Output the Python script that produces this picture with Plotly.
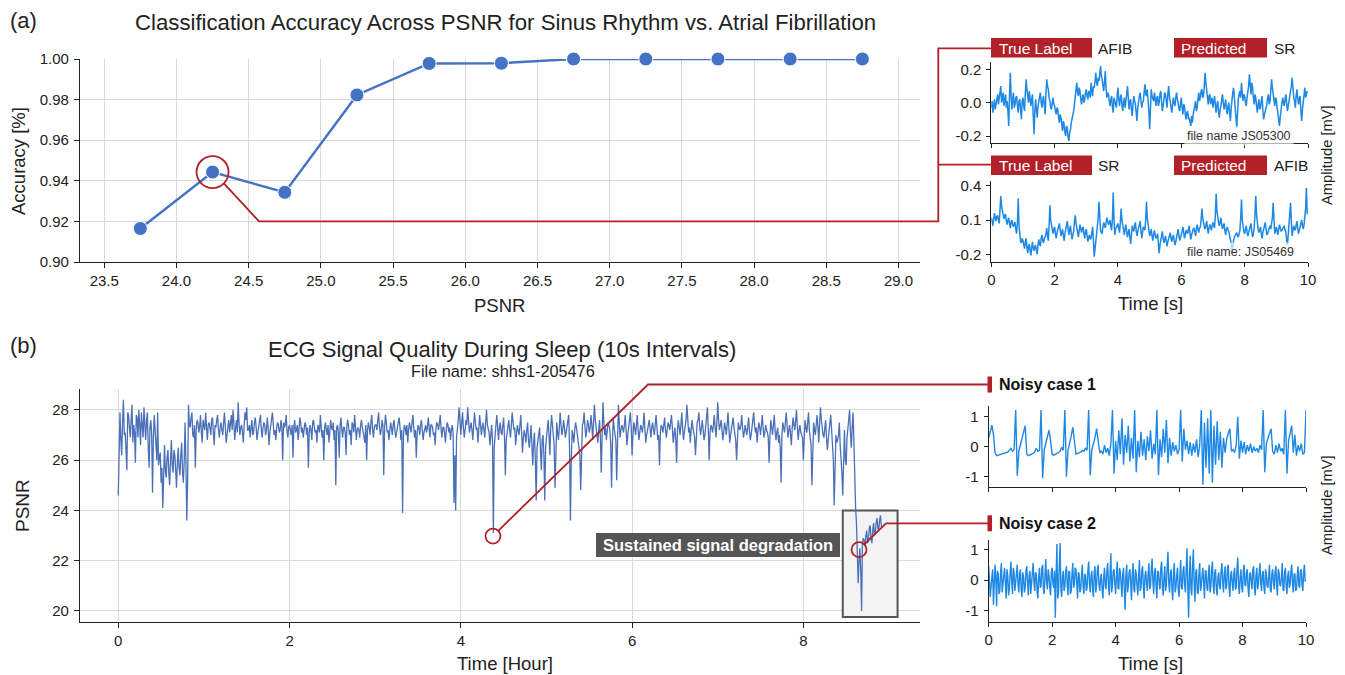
import plotly.graph_objects as go

W, H = 1345, 675

# ------------------------------------------------------------------ data
psnr_bins = [23.75, 24.25, 24.75, 25.25, 25.75, 26.25, 26.75, 27.25, 27.75, 28.25, 28.75]
accuracy = [0.9165, 0.9443, 0.9343, 0.9823, 0.9978, 0.9979, 1.0, 1.0, 1.0, 1.0, 1.0]
acc_xticks = [23.5, 24.0, 24.5, 25.0, 25.5, 26.0, 26.5, 27.0, 27.5, 28.0, 28.5, 29.0]
acc_yticks = [0.90, 0.92, 0.94, 0.96, 0.98, 1.00]

# PSNR of ECG epochs through the night, read every 0.01 h:
# psnr_even = readings at 0.00, 0.02, 0.04 ... h ; psnr_odd = readings at 0.01, 0.03 ... h
psnr_step_hours = 0.01
psnr_even = [
    24.6, 27.9, 26.2, 28.4, 27.1, 25.6, 27.8, 26.9, 28.2, 27.4, 25.9, 27.7, 28.0, 26.6, 27.5, 28.1, 26.8, 27.9, 25.7, 27.6,
    24.7, 27.8, 26.5, 27.9, 26.1, 25.1, 24.1, 26.6, 25.3, 26.4, 25.0, 26.8, 25.5, 26.2, 24.9, 26.5, 25.4, 26.7, 25.1, 27.5,
    23.6, 28.2, 27.3, 27.9, 26.9, 25.7, 27.6, 27.1, 27.8, 26.7, 27.4, 27.9, 26.8, 27.5, 27.0, 27.7, 26.6, 27.3, 27.8, 26.9,
    27.5, 27.0, 27.9, 26.7, 27.4, 27.1, 27.8, 28.0, 26.8, 27.6, 28.3, 27.0, 27.4, 26.7, 27.9, 28.1, 27.2, 26.9, 27.6, 27.1,
    27.7, 26.8, 27.3, 27.8, 26.9, 27.5, 27.0, 27.7, 26.6, 27.4, 27.9, 27.0, 26.8, 27.5, 27.1, 27.6, 26.0, 27.3, 27.8, 26.9,
    27.4, 27.0, 26.1, 27.6, 27.2, 26.8, 27.7, 27.1, 26.9, 27.5, 27.0, 25.7, 27.4, 26.8, 27.6, 27.1, 26.7, 27.3, 27.8, 26.9,
    26.0, 27.5, 27.0, 26.7, 27.6, 27.2, 26.8, 25.0, 27.4, 26.1, 27.7, 26.9, 27.3, 26.2, 27.6, 27.0, 26.6, 27.4, 27.8, 26.8,
    27.3, 26.9, 27.6, 27.1, 26.7, 26.0, 27.5, 27.0, 27.8, 26.9, 27.4, 27.2, 27.9, 27.0, 27.6, 25.4, 27.8, 27.1, 26.8, 27.5,
    27.0, 27.6, 26.9, 27.3, 27.7, 26.8, 23.9, 27.4, 27.0, 26.7, 27.5, 27.1, 27.8, 26.9, 26.1, 27.4, 27.0, 27.6, 26.8, 27.3,
    27.1, 27.7, 26.9, 27.4, 27.0, 26.6, 27.5, 27.2, 27.8, 26.9, 27.3, 26.7, 27.5, 27.1, 26.8, 27.4, 24.3, 24.0, 27.2, 28.1,
    27.0, 27.9, 26.9, 27.6, 28.1, 27.1, 27.5, 26.8, 27.9, 27.2, 26.7, 27.8, 27.0, 27.5, 26.9, 28.0, 27.2, 26.6, 27.4, 23.1,
    27.3, 27.8, 26.8, 27.5, 27.0, 27.7, 25.4, 27.1, 27.6, 26.9, 27.9, 27.2, 26.6, 27.4, 27.0, 27.8, 26.3, 27.2, 26.7, 27.5,
    26.5, 27.4, 25.8, 27.1, 24.4, 26.8, 27.3, 25.6, 27.0, 24.4, 26.9, 27.6, 26.2, 27.8, 27.1, 24.9, 27.5, 26.8, 27.9, 27.0,
    27.6, 26.9, 27.3, 27.8, 23.6, 27.2, 26.7, 27.5, 27.0, 26.5, 24.8, 27.4, 27.9, 26.9, 27.6, 27.1, 27.8, 26.8, 28.2, 27.3,
    26.7, 27.6, 25.5, 28.3, 27.0, 26.8, 27.5, 27.2, 24.9, 27.7, 27.0, 25.2, 28.2, 26.9, 27.4, 27.1, 27.8, 26.6, 27.3, 27.9,
    26.2, 27.5, 27.0, 27.8, 26.8, 27.4, 27.1, 27.9, 26.7, 27.3, 27.6, 26.9, 27.5, 27.0, 27.8, 26.8, 25.8, 27.4, 27.1, 27.7,
    26.9, 27.5, 27.2, 27.8, 26.7, 27.3, 25.9, 27.6, 27.0, 27.9, 26.8, 27.4, 28.2, 27.1, 26.7, 27.6, 27.0, 26.2, 27.5, 27.9,
    27.0, 27.6, 26.8, 27.3, 28.1, 26.0, 27.4, 27.1, 27.8, 26.9, 28.3, 27.2, 27.6, 26.8, 27.5, 27.0, 27.9, 26.7, 27.3, 27.7,
    27.0, 26.0, 27.5, 27.2, 27.8, 26.9, 27.4, 27.0, 27.7, 26.8, 27.3, 27.9, 27.1, 26.7, 27.5, 27.0, 27.8, 26.9, 27.4, 27.1,
    25.9, 27.6, 27.0, 27.8, 26.8, 27.3, 27.0, 25.1, 27.5, 27.1, 27.9, 26.9, 27.4, 26.6, 27.7, 27.2, 28.0, 26.8, 27.4, 27.0,
    26.0, 27.6, 27.1, 27.9, 26.8, 25.0, 27.5, 27.0, 27.8, 26.7, 28.1, 27.2, 26.9, 27.6, 26.4, 27.3, 27.8, 26.5, 24.2, 27.0,
    26.8, 27.5, 26.2, 24.6, 27.2, 25.8, 27.4, 28.0, 26.5, 27.9, 25.0, 23.5, 21.1, 22.5, 20.0, 22.9, 22.6, 23.2, 22.8, 23.4,
    22.7, 23.5, 23.1, 23.7, 23.2, 23.8, 23.3,
]
psnr_odd = [
    27.2, 26.8, 27.5, 27.0, 26.4, 27.9, 27.3, 27.6, 26.7, 27.1, 27.8, 26.9, 27.4, 27.9, 26.9, 27.2, 27.6, 26.5, 27.3, 27.0,
    26.9, 27.2, 26.0, 25.8, 26.3, 25.7, 25.9, 25.6, 26.1, 25.5, 26.0, 25.8, 26.4, 25.6, 25.9, 25.7, 26.2, 25.5, 26.0, 25.9,
    25.2, 27.4, 27.7, 27.0, 27.4, 27.2, 27.5, 27.3, 27.1, 27.6, 27.2, 27.0, 27.4, 27.3, 27.6, 27.1, 27.4, 27.6, 27.2, 27.3,
    27.2, 27.5, 27.3, 27.0, 27.6, 27.4, 27.2, 27.5, 27.3, 27.1, 27.5, 27.3, 27.1, 27.4, 27.6, 27.2, 27.4, 27.3, 27.0, 27.5,
    27.3, 27.1, 27.5, 27.2, 27.3, 27.4, 27.2, 27.3, 27.1, 27.6, 27.4, 27.2, 27.3, 27.4, 27.2, 27.3, 27.5, 27.4, 27.2, 27.3,
    27.2, 27.4, 27.3, 27.1, 27.4, 27.2, 27.5, 27.3, 27.2, 27.4, 27.3, 27.1, 27.2, 27.5, 27.3, 27.2, 27.4, 27.1, 27.3, 27.2,
    27.3, 27.2, 27.4, 27.1, 27.3, 27.5, 27.2, 27.3, 27.1, 27.4, 27.2, 27.3, 27.1, 27.4, 27.3, 27.2, 27.5, 27.1, 27.3, 27.2,
    27.2, 27.4, 27.3, 27.0, 27.4, 27.2, 27.3, 27.5, 27.2, 27.3, 27.4, 27.6, 27.3, 27.2, 27.4, 27.3, 27.5, 27.2, 27.1, 27.3,
    27.4, 27.2, 27.1, 27.5, 27.3, 27.2, 27.0, 27.3, 27.4, 27.2, 27.3, 27.5, 27.3, 27.2, 27.1, 27.3, 27.4, 27.2, 27.1, 27.4,
    27.3, 27.2, 27.4, 27.3, 27.1, 27.3, 27.4, 27.5, 27.2, 27.3, 27.1, 27.2, 27.4, 27.3, 27.2, 27.1, 26.2, 26.9, 27.6, 27.4,
    27.5, 27.3, 27.2, 27.4, 27.6, 27.3, 27.2, 27.4, 27.5, 27.3, 27.2, 27.4, 27.3, 27.2, 27.5, 27.4, 27.1, 27.2, 26.8, 26.5,
    27.4, 27.2, 27.3, 27.1, 27.4, 26.9, 26.8, 27.3, 27.2, 27.4, 27.5, 27.3, 27.0, 27.2, 27.4, 27.1, 26.9, 27.0, 27.2, 26.8,
    26.9, 26.6, 26.7, 26.0, 26.5, 27.1, 26.4, 26.8, 26.2, 26.5, 27.2, 27.0, 27.3, 27.4, 26.6, 26.5, 27.1, 27.3, 27.4, 27.2,
    27.3, 27.1, 27.5, 26.4, 26.0, 27.0, 27.2, 27.3, 26.8, 26.2, 26.6, 27.5, 27.3, 27.2, 27.4, 27.3, 27.4, 27.5, 27.6, 27.2,
    27.2, 26.9, 27.0, 27.5, 27.3, 27.2, 27.4, 26.7, 26.6, 27.3, 26.8, 27.4, 27.5, 27.2, 27.3, 27.4, 27.2, 27.0, 27.4, 27.3,
    27.0, 27.3, 27.4, 27.2, 27.1, 27.3, 27.4, 27.2, 27.0, 27.4, 27.2, 27.3, 27.2, 27.4, 27.3, 27.0, 27.1, 27.3, 27.4, 27.2,
    27.2, 27.4, 27.5, 27.3, 27.0, 26.8, 27.2, 27.3, 27.4, 27.3, 27.1, 27.6, 27.5, 27.3, 27.2, 27.3, 26.9, 27.0, 27.6, 27.3,
    27.3, 27.2, 27.0, 27.6, 27.2, 27.1, 27.3, 27.4, 27.3, 27.5, 27.6, 27.4, 27.2, 27.1, 27.3, 27.4, 27.3, 27.0, 27.5, 27.3,
    26.8, 27.0, 27.3, 27.4, 27.3, 27.1, 27.2, 27.3, 27.2, 27.0, 27.5, 27.4, 27.3, 27.2, 27.3, 27.4, 27.3, 27.1, 27.2, 26.9,
    27.0, 27.3, 27.4, 27.2, 27.1, 26.7, 26.5, 27.0, 27.3, 27.5, 27.4, 27.2, 27.0, 27.3, 27.4, 27.6, 27.3, 27.2, 27.1, 26.9,
    27.2, 27.3, 27.5, 27.2, 26.6, 26.7, 27.2, 27.4, 27.3, 27.5, 27.6, 27.0, 27.2, 26.9, 26.8, 27.5, 27.1, 26.0, 26.2, 26.7,
    27.0, 26.6, 25.5, 26.3, 26.0, 26.9, 27.6, 27.1, 27.3, 26.8, 24.1, 22.4, 22.0, 21.6, 22.7, 22.8, 23.0, 22.7, 23.3, 22.9,
    23.2, 23.0, 23.5, 23.3, 23.6, 23.4,
]
psnr_xticks = [0, 2, 4, 6, 8]
psnr_yticks = [20, 22, 24, 26, 28]

# ECG strips (mV). "_a" lists: readings every 0.05 s from 0 s; "_b" lists: the readings
# in between (0.025 s, 0.075 s, ...).
ecg_js05300_a = [
    -0.03, -0.06, 0.02, -0.01, 0.05, 0.02, 0.10, 0.03, -0.02, 0.05, 0.01, -0.14, 0.18, -0.04, 0.06, -0.01, 0.04, -0.06, 0.02, -0.10,
    0.03, -0.05, 0.14, 0.04, 0.07, -0.02, 0.05, -0.19, 0.02, -0.09, 0.01, 0.06, -0.03, 0.04, -0.07, 0.14, 0.08, 0.01, -0.04, 0.03,
    -0.02, -0.07, -0.04, -0.12, -0.09, -0.17, -0.13, -0.20, -0.15, -0.23, -0.16, -0.10, -0.05, 0.03, 0.12, 0.04, 0.07, -0.01, 0.05, 0.02,
    0.08, 0.02, 0.06, 0.12, 0.04, 0.09, 0.18, 0.10, 0.13, 0.22, 0.14, 0.07, 0.19, 0.03, 0.05, -0.02, 0.04, -0.06, 0.01, -0.03,
    0.09, -0.02, 0.05, -0.05, 0.03, 0.00, 0.10, -0.04, 0.02, -0.08, 0.04, -0.01, -0.11, 0.02, 0.06, -0.03, 0.01, 0.11, 0.04, 0.02,
    -0.16, 0.08, 0.03, 0.06, -0.02, 0.04, 0.00, 0.07, -0.05, 0.02, 0.05, -0.03, 0.10, 0.01, -0.06, 0.03, -0.02, 0.06, 0.00, -0.05,
    0.03, -0.07, -0.02, -0.10, -0.05, -0.09, -0.14, -0.12, -0.04, 0.01, -0.03, 0.06, 0.03, 0.08, 0.04, 0.18, 0.08, -0.01, 0.05, 0.02,
    -0.03, 0.04, -0.06, 0.01, -0.09, -0.02, 0.05, -0.04, 0.02, -0.07, 0.00, -0.11, 0.03, 0.09, -0.05, -0.15, 0.02, 0.07, 0.12, 0.01,
    0.04, -0.02, 0.06, 0.17, 0.05, 0.09, -0.01, 0.03, -0.06, 0.02, -0.03, 0.04, -0.10, -0.05, -0.01, 0.05, 0.01, 0.14, 0.06, -0.02,
    0.02, -0.07, -0.14, -0.04, 0.03, -0.02, 0.05, -0.05, 0.01, 0.06, 0.15, 0.03, -0.03, 0.08, -0.01, 0.04, -0.11, 0.02, 0.09, 0.05,
]
ecg_js05300_b = [
    0.01, -0.02, -0.04, 0.03, -0.01, 0.07, 0.00, 0.06, 0.02, -0.03, -0.05, 0.04, 0.05, 0.02, -0.03, 0.03, -0.02, 0.01, -0.04, 0.01,
    -0.02, 0.06, 0.08, 0.00, 0.03, 0.02, -0.08, -0.05, -0.04, -0.02, 0.04, 0.00, 0.02, -0.02, 0.05, 0.10, 0.03, -0.03, 0.00, -0.01,
    -0.05, -0.03, -0.09, -0.07, -0.13, -0.11, -0.18, -0.14, -0.21, -0.18, -0.12, -0.08, -0.01, 0.07, 0.06, 0.09, 0.02, 0.03, 0.00, 0.06,
    0.04, 0.07, 0.03, 0.07, 0.10, 0.13, 0.12, 0.15, 0.17, 0.16, 0.10, 0.13, 0.08, 0.06, 0.01, 0.02, -0.03, 0.03, -0.02, 0.04,
    0.02, 0.03, -0.01, 0.00, -0.03, 0.05, 0.02, 0.01, -0.04, -0.01, 0.01, -0.06, -0.03, 0.04, 0.01, 0.00, 0.06, 0.05, 0.08, -0.05,
    -0.03, 0.04, 0.01, 0.02, 0.03, -0.02, 0.05, 0.01, -0.02, 0.06, 0.00, 0.05, 0.04, -0.03, -0.01, 0.00, 0.03, 0.02, -0.04, 0.00,
    -0.03, -0.01, -0.07, -0.06, -0.10, -0.12, -0.08, -0.07, -0.02, -0.05, 0.02, 0.01, 0.07, 0.03, 0.10, 0.12, 0.03, 0.04, -0.01, 0.03,
    0.01, -0.02, -0.01, -0.05, -0.04, 0.02, 0.00, -0.01, -0.04, -0.02, -0.06, -0.03, 0.06, 0.01, -0.09, -0.05, 0.05, 0.03, 0.06, 0.05,
    0.00, 0.03, 0.10, 0.09, 0.12, 0.03, 0.05, -0.02, -0.01, -0.04, 0.01, -0.05, -0.07, -0.02, 0.03, -0.01, 0.07, 0.09, 0.01, 0.03,
    -0.03, -0.10, -0.08, -0.01, 0.00, 0.02, 0.00, -0.02, 0.04, 0.10, 0.08, 0.01, 0.04, 0.03, 0.02, -0.05, -0.04, 0.06, 0.03, 0.07,
]
ecg_js05469_a = [
    0.12, 0.05, 0.16, 0.09, 0.14, 0.07, 0.31, 0.18, 0.11, 0.15, 0.06, 0.12, 0.03, 0.10, 0.04, 0.08, -0.02, 0.29, -0.05, -0.10,
    -0.08, -0.15, -0.06, -0.19, -0.11, -0.21, -0.09, -0.17, -0.12, -0.20, -0.07, -0.13, -0.03, -0.10, -0.05, 0.03, -0.08, 0.23, 0.06, -0.02,
    0.04, -0.06, 0.01, 0.07, -0.04, 0.02, -0.08, 0.03, 0.09, -0.03, 0.05, -0.07, 0.00, 0.14, 0.03, -0.05, 0.06, -0.01, 0.04, -0.06,
    0.02, -0.09, -0.03, -0.06, 0.04, -0.22, -0.10, 0.05, 0.26, 0.01, -0.02, 0.08, 0.03, 0.12, 0.06, 0.10, 0.01, 0.34, -0.03, 0.04,
    0.07, -0.01, 0.20, 0.04, -0.03, 0.06, -0.05, 0.02, -0.11, 0.05, 0.00, 0.08, -0.04, 0.03, 0.09, -0.06, 0.04, 0.01, 0.26, 0.05,
    -0.04, 0.02, -0.08, 0.01, -0.06, -0.02, -0.19, -0.07, 0.00, -0.10, -0.04, -0.13, -0.06, -0.01, -0.09, -0.03, -0.12, -0.05, 0.02, -0.08,
    -0.03, 0.04, -0.06, 0.01, -0.02, 0.05, -0.07, 0.00, 0.03, -0.04, 0.06, -0.01, 0.04, 0.20, 0.07, 0.02, 0.09, -0.02, 0.06, 0.01,
    0.08, 0.03, 0.33, 0.10, 0.05, 0.12, 0.02, 0.07, -0.03, 0.04, 0.00, -0.06, -0.19, -0.08, -0.04, -0.01, -0.05, 0.01, 0.28, 0.03,
    -0.02, 0.05, -0.04, 0.02, 0.07, -0.05, 0.03, 0.31, 0.06, -0.01, 0.04, -0.06, 0.02, 0.08, -0.03, 0.01, 0.05, 0.07, 0.25, -0.02,
    0.04, -0.03, 0.06, 0.00, 0.02, 0.05, -0.01, -0.12, 0.07, 0.25, -0.04, 0.05, 0.01, 0.09, -0.02, 0.04, 0.10, 0.02, 0.12, 0.38,
]
ecg_js05469_b = [
    0.08, 0.11, 0.12, 0.13, 0.10, 0.19, 0.22, 0.13, 0.14, 0.09, 0.10, 0.07, 0.08, 0.06, 0.07, 0.02, 0.08, 0.05, -0.09, -0.06,
    -0.12, -0.09, -0.14, -0.13, -0.17, -0.14, -0.15, -0.13, -0.17, -0.12, -0.11, -0.06, -0.08, -0.06, -0.02, -0.04, 0.05, 0.10, 0.01, 0.02,
    -0.02, -0.01, 0.05, 0.01, -0.01, -0.04, -0.02, 0.07, 0.02, 0.02, -0.02, -0.03, 0.08, 0.07, -0.02, 0.01, 0.02, 0.03, -0.02, 0.00,
    -0.04, -0.05, -0.07, -0.01, -0.08, -0.15, -0.02, 0.12, 0.10, -0.01, 0.04, 0.05, 0.08, 0.09, 0.07, 0.04, 0.12, 0.10, 0.02, 0.05,
    0.02, 0.08, 0.10, 0.01, 0.03, 0.00, -0.01, -0.05, -0.03, 0.02, 0.05, 0.01, 0.00, 0.06, 0.01, -0.01, 0.03, 0.10, 0.12, 0.00,
    -0.02, -0.04, -0.03, -0.03, -0.05, -0.10, -0.12, -0.04, -0.06, -0.07, -0.09, -0.09, -0.03, -0.06, -0.05, -0.08, -0.09, -0.02, -0.04, -0.05,
    0.00, -0.02, -0.03, 0.00, 0.02, -0.02, -0.03, 0.02, -0.01, 0.02, 0.02, 0.03, 0.10, 0.12, 0.04, 0.06, 0.03, 0.03, 0.04, 0.05,
    0.05, 0.15, 0.18, 0.08, 0.09, 0.06, 0.05, 0.01, 0.02, 0.01, -0.04, -0.10, -0.12, -0.05, -0.03, -0.04, -0.02, 0.12, 0.10, 0.00,
    0.02, 0.00, -0.01, 0.05, 0.00, -0.02, 0.14, 0.15, 0.02, 0.02, -0.02, -0.01, 0.05, 0.02, -0.02, 0.04, 0.02, 0.12, 0.08, 0.01,
    0.00, 0.02, 0.03, 0.01, 0.04, 0.01, -0.07, -0.03, 0.14, 0.08, 0.01, 0.02, 0.05, 0.03, 0.01, 0.08, 0.05, 0.06, 0.20, 0.15,
]
# noisy case 1 (every 0.05 s)
ecg_noisy1 = [
    0.30, 0.55, 0.72, 0.40, -0.20, -0.30, -0.28, -0.27, -0.25, -0.24, -0.22, -0.20, -0.18, -0.12, -0.05, -0.15, -0.10, 1.22, -0.97, -0.15,
    0.05, 0.25, 0.45, 0.70, -0.25, -0.30, -0.27, -0.25, -0.22, -0.18, -0.05, -0.15, -0.12, 1.22, -1.05, -0.10, 0.10, 0.30, 0.55, 0.20,
    -0.25, -0.28, -0.24, -0.22, -0.20, -0.15, -0.02, -0.12, 1.22, -1.00, -0.12, 0.10, 0.35, 0.65, 0.15, -0.25, -0.22, -0.20, -0.18, -0.12,
    -0.15, -0.05, -0.12, 1.22, -0.95, -0.10, 0.10, 0.30, 0.60, 0.10, -0.20, -0.15, -0.25, 0.05, -0.20, -0.05, -0.30, 0.10, 1.22, -0.90,
    0.20, -0.45, 0.55, -0.25, 0.95, -0.60, 0.40, -0.20, 0.70, -0.50, 0.30, -0.40, 1.22, -0.85, 0.20, -0.35, 0.50, -0.30, 0.25, -0.45,
    0.35, -0.15, 0.55, -0.40, 0.10, -0.25, 1.22, -0.95, 0.25, -0.35, 0.60, -0.20, 0.90, -0.55, 0.30, -0.30, 0.15, -0.15, 0.05, -0.25,
    -0.10, 1.22, -0.50, 0.60, -0.10, 0.20, -0.25, 0.15, -0.30, 0.10, -0.20, 0.25, -0.35, 0.05, 1.22, -1.27, 0.80, -0.70, 0.95, -0.90,
    1.22, -1.20, 0.70, -0.60, 0.85, -0.45, 0.50, -0.70, 0.30, -0.20, 0.25, 0.45, 0.60, -0.15, -0.10, -0.20, 0.05, 1.00, -0.40, 0.20,
    -0.20, 0.15, -0.25, 0.05, -0.15, 0.10, -0.20, 0.00, -0.15, -0.05, -0.20, 0.05, -0.10, 1.22, -0.85, 0.10, 0.30, 0.45, 0.60, -0.15,
    -0.25, 0.05, -0.20, 0.10, -0.15, -0.05, -0.25, 1.22, -0.90, 0.20, 0.45, 0.70, -0.20, 0.40, -0.30, 0.05, -0.15, 0.10, -0.25, -0.20,
    1.22,
]
ecg_noisy2_a = [
    0.45, -0.55, 0.30, -0.80, 0.50, -0.85, 0.20, -0.35, 0.55, -0.20, 0.40, -0.60, 0.15, -0.30, 0.60, -0.45, 0.25, -0.10, 0.50, -0.40,
    0.35, -0.55, 0.10, -0.25, 0.45, -0.50, 0.30, -0.15, 0.55, -0.35, 0.20, -0.60, 0.40, -0.20, 0.50, -0.45, 0.68, -0.30, 0.15, -0.50,
    0.40, -0.25, -1.22, 1.17, -0.40, 1.20, -0.55, 0.30, -0.20, 0.45, -0.50, 0.25, -0.35, 0.55, -0.15, 0.35, -0.60, 0.20, -0.30, 0.50,
    -0.45, 0.15, -0.25, 0.60, -0.40, 0.30, -0.55, 0.45, -0.15, 0.50, -0.35, 0.20, -0.60, 0.40, -0.30, 0.55, -0.50, 0.87, -0.20, 0.35,
    -0.45, 0.60, -0.30, 0.25, -0.55, 0.40, -0.96, 0.50, -0.20, 0.35, -0.65, 0.55, -0.40, 0.20, -0.50, 0.65, -0.25, 0.45, -0.60, 0.30,
    -0.35, 0.55, -0.20, 0.70, -0.45, 0.40, -0.60, 0.25, -0.30, 0.60, -0.50, 0.45, -0.15, 0.92, -0.40, 0.35, -0.65, 0.55, -0.25, 0.40,
    -0.55, 0.65, -0.30, 0.45, -0.40, 1.03, -1.22, 0.80, -0.50, 1.00, -0.70, 0.35, -0.45, 0.55, -0.20, 0.40, -0.60, 0.30, -0.35, 0.50,
    -0.25, 0.60, -0.45, 0.35, -0.50, 0.25, -0.30, 0.55, -0.40, 0.45, -0.20, 0.50, -0.55, 0.30, -0.35, 0.40, -0.25, 0.73, -0.45, 0.35,
    -0.40, 0.50, -0.20, 0.35, -0.55, 0.25, -0.30, 0.45, -0.50, 0.40, -0.15, 0.55, -0.35, 0.30, -0.45, 0.20, -0.25, 0.50, -0.40, 0.35,
    -0.30, 0.45, -0.50, 0.25, -0.20, 0.55, -0.35, 0.40, -0.45, 0.30, -0.15, 0.50, -0.40, 0.20, -0.30, 0.45, -0.25, 0.35, -0.35, 0.50,
]
ecg_noisy2_b = [
    0.10, -0.20, 0.35, -0.15, 0.05, 0.30, -0.45, 0.25, -0.40, 0.15, -0.10, 0.35, -0.50, 0.20, -0.05, 0.40, -0.35, 0.30, -0.15, 0.20,
    -0.30, 0.25, -0.40, 0.30, -0.10, 0.15, -0.45, 0.35, -0.05, 0.25, -0.35, 0.10, -0.25, 0.40, -0.30, 0.20, -0.10, 0.35, -0.25, 0.30,
    -0.10, 0.30, 0.20, -0.60, 0.45, -0.30, 0.10, -0.35, 0.25, -0.15, 0.30, -0.45, 0.20, -0.25, 0.40, -0.10, 0.25, -0.40, 0.15, -0.20,
    0.20, -0.35, 0.30, -0.10, 0.15, -0.30, 0.25, -0.40, 0.35, -0.15, 0.05, -0.30, 0.10, -0.20, 0.30, -0.15, 0.20, -0.40, 0.30, -0.10,
    0.10, -0.25, 0.40, -0.15, 0.20, -0.35, 0.15, -0.40, 0.25, -0.10, 0.20, -0.30, 0.35, -0.20, 0.10, -0.35, 0.30, -0.20, 0.15, -0.10,
    0.20, -0.30, 0.35, -0.05, 0.25, -0.20, 0.30, -0.15, 0.40, -0.25, 0.10, -0.35, 0.45, -0.10, 0.20, -0.30, 0.25, -0.40, 0.15, -0.30,
    0.10, -0.25, 0.30, -0.15, 0.35, -0.20, 0.10, -0.30, 0.45, -0.10, 0.25, -0.40, 0.20, -0.35, 0.15, -0.10, 0.30, -0.25, 0.20, -0.40,
    0.35, -0.15, 0.25, -0.30, 0.10, -0.20, 0.30, -0.05, 0.20, -0.30, 0.40, -0.25, 0.15, -0.10, 0.20, -0.30, 0.40, -0.20, 0.10, -0.25,
    0.30, -0.15, 0.25, -0.30, 0.20, -0.10, 0.35, -0.25, 0.15, -0.30, 0.25, -0.10, 0.20, -0.25, 0.35, -0.20, 0.15, -0.30, 0.20, -0.10,
    0.25, -0.20, 0.35, -0.15, 0.10, -0.30, 0.25, -0.20, 0.15, -0.25, 0.30, -0.10, 0.20, -0.35, 0.15, -0.20, 0.30, -0.15, 0.25, -0.05,
]
ecg_xticks = [0, 2, 4, 6, 8, 10]

# ------------------------------------------------------------------ style
FONT = "Liberation Sans, Arial, sans-serif"
TXT = "#222222"
RED = "#b22028"
ACC_BLUE = "#4472c4"
PSNR_BLUE = "#4a70b8"
ECG_BLUE = "#1e88e5"
GRID = "#d9d9d9"


def merge(a, b):
    """Put the in-between readings b back between the readings a."""
    out = []
    for i, v in enumerate(a):
        out.append(v)
        if i < len(b):
            out.append(b[i])
    return out


psnr_night = merge(psnr_even, psnr_odd)
ecg_js05300 = merge(ecg_js05300_a, ecg_js05300_b)
ecg_js05469 = merge(ecg_js05469_a, ecg_js05469_b)
ecg_noisy2 = merge(ecg_noisy2_a, ecg_noisy2_b)


def fx(p):
    return p / W


def fy(p):
    return 1 - p / H


# subplot frames in screen pixels: (left, right), (bottom, top), ranges
AX = {
    1: dict(xpx=(80, 920), ypx=(262, 59), xr=(23.332, 29.149), yr=(0.90, 1.00)),
    2: dict(xpx=(991.3, 1308), ypx=(143, 61.7), xr=(0, 10), yr=(-0.242, 0.246)),
    3: dict(xpx=(991.3, 1308), ypx=(262.3, 180.7), xr=(0, 10), yr=(-0.27, 0.444)),
    4: dict(xpx=(80, 920), ypx=(622.3, 389.3), xr=(-0.447, 9.362), yr=(19.55, 28.82)),
    5: dict(xpx=(988.7, 1306), ypx=(487.3, 406), xr=(0, 10), yr=(-1.353, 1.357)),
    6: dict(xpx=(988.7, 1306), ypx=(621.7, 540), xr=(0, 10), yr=(-1.35, 1.30)),
}


def to_px(n, x, y):
    a = AX[n]
    xp = a["xpx"][0] + (x - a["xr"][0]) / (a["xr"][1] - a["xr"][0]) * (a["xpx"][1] - a["xpx"][0])
    yp = a["ypx"][0] + (y - a["yr"][0]) / (a["yr"][1] - a["yr"][0]) * (a["ypx"][1] - a["ypx"][0])
    return xp, yp


def ref(n, axis):
    return axis if n == 1 else f"{axis}{n}"


fig = go.Figure()

# ------------------------------------------------------------------ traces
fig.add_trace(go.Scatter(
    x=psnr_bins, y=accuracy, mode="lines+markers",
    line=dict(color=ACC_BLUE, width=2.5),
    marker=dict(size=14, color=ACC_BLUE, line=dict(color="white", width=1)),
    cliponaxis=False, xaxis="x", yaxis="y", hoverinfo="skip"))


def ecg_trace(vals, n, step, width=1.4):
    return go.Scatter(
        x=[i * step for i in range(len(vals))], y=vals, mode="lines",
        line=dict(color=ECG_BLUE, width=width), xaxis=ref(n, "x"), yaxis=ref(n, "y"),
        hoverinfo="skip")


fig.add_trace(ecg_trace(ecg_js05300, 2, 0.025, 1.5))
fig.add_trace(ecg_trace(ecg_js05469, 3, 0.025, 1.5))
fig.add_trace(go.Scatter(
    x=[i * psnr_step_hours for i in range(len(psnr_night))], y=psnr_night, mode="lines",
    line=dict(color=PSNR_BLUE, width=1.3), xaxis="x4", yaxis="y4", hoverinfo="skip"))
fig.add_trace(ecg_trace(ecg_noisy1, 5, 0.05))
fig.add_trace(ecg_trace(ecg_noisy2, 6, 0.025))

# ------------------------------------------------------------------ axes
layout_axes = {}
for n, a in AX.items():
    xk = "xaxis" if n == 1 else f"xaxis{n}"
    yk = "yaxis" if n == 1 else f"yaxis{n}"
    main = n in (1, 4)
    base = dict(showline=True, linecolor=TXT, linewidth=1.3 if main else 1.1,
                ticks="outside", ticklen=5 if main else 4, tickcolor=TXT, tickwidth=1,
                zeroline=False, tickfont=dict(size=15, color=TXT, family=FONT),
                showgrid=main, gridcolor=GRID, gridwidth=1, fixedrange=True,
                automargin=False)
    layout_axes[xk] = dict(base, domain=[fx(a["xpx"][0]), fx(a["xpx"][1])], range=list(a["xr"]),
                           anchor=ref(n, "y"))
    layout_axes[yk] = dict(base, domain=[fy(a["ypx"][0]), fy(a["ypx"][1])], range=list(a["yr"]),
                           anchor=ref(n, "x"), ticklabelstandoff=2)

layout_axes["xaxis"].update(tickvals=acc_xticks, ticktext=[f"{v:.1f}" for v in acc_xticks])
layout_axes["yaxis"].update(tickvals=acc_yticks, ticktext=[f"{v:.2f}" for v in acc_yticks])
layout_axes["xaxis4"].update(tickvals=psnr_xticks, ticktext=[str(v) for v in psnr_xticks])
layout_axes["yaxis4"].update(tickvals=psnr_yticks, ticktext=[str(v) for v in psnr_yticks])
for n in (2, 3, 5, 6):
    layout_axes[f"xaxis{n}"].update(tickvals=ecg_xticks, ticktext=[str(v) for v in ecg_xticks],
                                    showticklabels=n in (3, 6))
layout_axes["yaxis2"].update(tickvals=[-0.2, 0.0, 0.2], ticktext=["-0.2", "0.0", "0.2"])
layout_axes["yaxis3"].update(tickvals=[-0.2, 0.1, 0.4], ticktext=["-0.2", "0.1", "0.4"])
layout_axes["yaxis5"].update(tickvals=[-1, 0, 1], ticktext=["-1", "0", "1"])
layout_axes["yaxis6"].update(tickvals=[-1, 0, 1], ticktext=["-1", "0", "1"])

# ------------------------------------------------------------------ shapes
shapes = []


def rect_px(x0, y0, x1, y1, fill, line_color=None, line_width=0, layer="above"):
    shapes.append(dict(type="rect", xref="paper", yref="paper",
                       x0=fx(x0), x1=fx(x1), y0=fy(y1), y1=fy(y0),
                       fillcolor=fill, line=dict(color=line_color or fill, width=line_width),
                       layer=layer))


def path_px(points, color=RED, width=1.8):
    d = "M " + " L ".join(f"{fx(x):.5f},{fy(y):.5f}" for x, y in points)
    shapes.append(dict(type="path", xref="paper", yref="paper", path=d,
                       line=dict(color=color, width=width)))


def circle_data(n, x, y, r, width=1.8):
    shapes.append(dict(type="circle", xref=ref(n, "x"), yref=ref(n, "y"),
                       xsizemode="pixel", ysizemode="pixel", xanchor=x, yanchor=y,
                       x0=-r, x1=r, y0=-r, y1=r, line=dict(color=RED, width=width)))


# (a) highlighted bin and connector to the two example strips
hl_i = 1
circle_data(1, psnr_bins[hl_i], accuracy[hl_i], 16)
cx, cy = to_px(1, psnr_bins[hl_i], accuracy[hl_i])
elbow_x, elbow_y = to_px(1, 24.572, 0.92)
path_px([(cx + 11.3, cy + 11.3), (elbow_x, elbow_y), (938.3, elbow_y), (938.3, 48.3), (991, 48.3)])
path_px([(938.3, 164.7), (991, 164.7)])

# label boxes
for ytop in (38, 155.5):
    rect_px(991, ytop, 1092, ytop + 19.5, RED)
    rect_px(1174, ytop, 1267, ytop + 19.5, RED)

# (b) degraded region
shapes.append(dict(type="rect", xref="x4", yref="y4", x0=8.46, x1=9.10, y0=19.76, y1=24.0,
                   fillcolor="#f3f3f3", line=dict(color="#555555", width=2), layer="between"))
rect_px(596, 533, 840, 557, "#555555")

n1_t, n1_v = 4.375, 22.98
n2_t, n2_v = 8.65, 22.44
circle_data(4, n1_t, n1_v, 7.5)
circle_data(4, n2_t, n2_v, 7.5)
p1x, p1y = to_px(4, n1_t, n1_v)
p2x, p2y = to_px(4, n2_t, n2_v)
path_px([(p1x + 5.3, p1y - 5.3), (648, 384.5), (988, 384.5)])
path_px([(p2x + 5.3, p2y - 5.3), (886, 523.3), (988, 523.3)])
rect_px(987.5, 376.5, 992, 392.5, RED)
rect_px(987.5, 515.3, 992, 531.3, RED)

# ------------------------------------------------------------------ annotations
anns = []


def text_px(t, x, y, size, color=TXT, xanchor="center", angle=0, bg=None, pad=0):
    d = dict(text=t, x=fx(x), y=fy(y), xref="paper", yref="paper", showarrow=False,
             xanchor=xanchor, yanchor="middle", textangle=angle,
             font=dict(size=size, color=color, family=FONT))
    if bg:
        d.update(bgcolor=bg, borderpad=pad)
    anns.append(d)


text_px("(a)", 8, 21, 22, xanchor="left")
text_px("Classification Accuracy Across PSNR for Sinus Rhythm vs. Atrial Fibrillation", 505, 22, 22.2)
text_px("Accuracy [%]", 18, 161, 18.5, angle=-90)
text_px("PSNR", 500, 305, 18.5)

text_px("True Label", 997, 48, 15.5, color="white", xanchor="left")
text_px("AFIB", 1096, 48, 15.5, xanchor="left")
text_px("Predicted", 1179, 48, 15.5, color="white", xanchor="left")
text_px("SR", 1272, 48, 15.5, xanchor="left")
text_px("True Label", 997, 165.3, 15.5, color="white", xanchor="left")
text_px("SR", 1096, 165.3, 15.5, xanchor="left")
text_px("Predicted", 1179, 165.3, 15.5, color="white", xanchor="left")
text_px("AFIB", 1272, 165.3, 15.5, xanchor="left")
text_px("file name JS05300", 1294, 135.5, 12.5, color="#333333", xanchor="right",
        bg="rgba(255,255,255,0.65)", pad=2)
text_px("file name: JS05469", 1297, 252.5, 12.5, color="#333333", xanchor="right",
        bg="rgba(255,255,255,0.65)", pad=2)
text_px("Amplitude [mV]", 1327, 155, 14.7, angle=-90)
text_px("Time [s]", 1150, 304, 18.5)

text_px("(b)", 8, 345, 22, xanchor="left")
text_px("ECG Signal Quality During Sleep (10s Intervals)", 502, 349, 22)
text_px("File name: shhs1-205476", 503, 371, 16.3)
text_px("PSNR", 22, 506, 19, angle=-90)
text_px("Time [Hour]", 505, 663, 18.5)
text_px("<b>Sustained signal degradation</b>", 718, 545, 16.5, color="white")
text_px("<b>Noisy case 1</b>", 997, 384, 16, color="#111111", xanchor="left")
text_px("<b>Noisy case 2</b>", 997, 523, 16, color="#111111", xanchor="left")
text_px("Amplitude [mV]", 1327, 505, 14.7, angle=-90)
text_px("Time [s]", 1150, 663, 18.5)

fig.update_layout(
    width=W, height=H, margin=dict(l=0, r=0, t=0, b=0, autoexpand=False),
    paper_bgcolor="white", plot_bgcolor="white", showlegend=False,
    font=dict(family=FONT, color=TXT), shapes=shapes, annotations=anns,
    **layout_axes)

# the page's default body margin would shift the figure by 8 px
fig.write_html("out.html", config={"displayModeBar": False},
               post_script="document.body.style.margin='0px';document.body.style.overflow='hidden';")
